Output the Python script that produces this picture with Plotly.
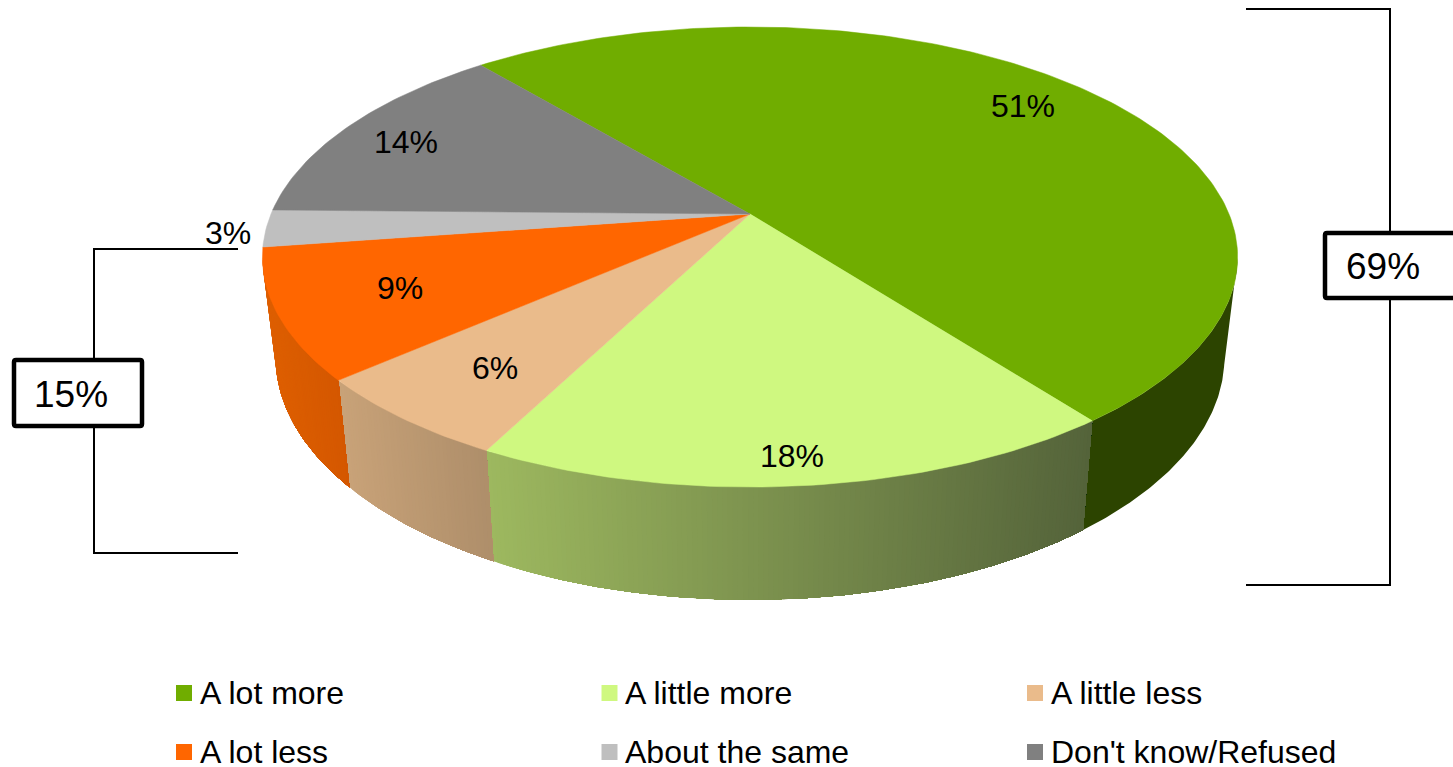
import math
import plotly.graph_objects as go

# ---- data ----
categories = ["A lot more", "A little more", "A little less", "A lot less", "About the same", "Don't know/Refused"]
values = [50.7, 18.0, 6.0, 9.1, 2.6, 13.6]
slice_labels = ["51%", "18%", "6%", "9%", "3%", "14%"]
top_colors = ["#70AD00", "#CFF880", "#EABB8B", "#FF6600", "#BFBFBF", "#808080"]
wall_left = ["#2C4400", "#9DB85F", "#C8A278", "#DE5F00", "#A0A0A0", "#6A6A6A"]
wall_right = ["#2C4400", "#54633A", "#AE8E6A", "#D45700", "#A0A0A0", "#6A6A6A"]
net_labels = ["69%", "15%"]

# ---- projection of the tilted pie onto the page ----
W, H = 1453, 767
CX, CY = 750, 214
RX, RY, K = 479, 222, 0.187
START = 320
FONT = "Liberation Sans, Arial, sans-serif"


def top(t):
    u, v = math.sin(math.radians(t)), -math.cos(math.radians(t))
    w = 1 - K * v
    return CX + RX * u / w, CY + RY * v / w


def bottom(t):
    x, y = top(t)
    return CX + 0.973 * (x - CX), 1.055 * y + 86


def hex2rgb(c):
    return [int(c[i:i + 2], 16) for i in (1, 3, 5)]


def mix(a, b, f):
    ra, rb = hex2rgb(a), hex2rgb(b)
    return "rgb(%d,%d,%d)" % tuple(round(p + (q - p) * f) for p, q in zip(ra, rb))


fig = go.Figure()
total = sum(values)
angle = START
spans = []
for val in values:
    spans.append((angle, angle + val / total * 360))
    angle += val / total * 360


def visible(t):
    return -math.cos(math.radians(t)) > K


# side walls: each step repaints the rest of the wall, so no seams show
for i, (a0, a1) in enumerate(spans):
    n = max(2, int((a1 - a0) / 0.5))
    ts = [t for t in (a0 + (a1 - a0) * j / n for j in range(n + 1)) if visible(t)]
    if len(ts) < 2:
        continue
    ts.sort(key=lambda t: top(t)[0])
    step = 1 if wall_left[i] != wall_right[i] else len(ts)
    xa, xb = top(ts[0])[0], top(ts[-1])[0]
    for j in range(0, len(ts) - 1, step):
        rest = ts[j:]
        p = [top(t) for t in rest] + [bottom(t) for t in reversed(rest)]
        p.append(p[0])
        f = (top(ts[j])[0] - xa) / ((xb - xa) or 1)
        col = mix(wall_left[i], wall_right[i], f)
        fig.add_trace(go.Scatter(
            x=[q[0] for q in p], y=[q[1] for q in p], mode="lines", fill="toself",
            fillcolor=col, line=dict(color=col, width=0), hoverinfo="skip", showlegend=False))

# top faces
for i, (a0, a1) in enumerate(spans):
    n = max(4, int(a1 - a0))
    pts = [(CX, CY)] + [top(a0 + (a1 - a0) * j / n) for j in range(n + 1)] + [(CX, CY)]
    fig.add_trace(go.Scatter(
        x=[q[0] for q in pts], y=[q[1] for q in pts], mode="lines", fill="toself",
        fillcolor=top_colors[i], line=dict(color=top_colors[i], width=0.5),
        name=categories[i], hoverinfo="skip", showlegend=False))

label_pos = [(1023, 106), (792, 456), (495, 368), (400, 288), (228, 233), (406, 142)]
annotations = [
    dict(x=px, y=py, text=s, showarrow=False,
         font=dict(family=FONT, size=32, color="#000000"))
    for (px, py), s in zip(label_pos, slice_labels)
]
annotations += [
    dict(x=1382.5, y=266, text=net_labels[0], showarrow=False, font=dict(family=FONT, size=37, color="#000000")),
    dict(x=70.5, y=394, text=net_labels[1], showarrow=False, font=dict(family=FONT, size=37, color="#000000")),
]

# legend: swatch markers with their texts
legend_cols = [184, 609.5, 1035]
legend_rows = [693, 752]
for i, cat in enumerate(categories):
    lx, ly = legend_cols[i % 3], legend_rows[i // 3]
    fig.add_trace(go.Scatter(
        x=[lx], y=[ly], mode="markers", name=cat, showlegend=False, hoverinfo="skip",
        marker=dict(symbol="square", size=16, color=top_colors[i], line=dict(width=0))))
    annotations.append(dict(x=lx + 13.5, y=ly, text=cat, xanchor="left", showarrow=False,
                            font=dict(family=FONT, size=32, color="#000000")))

line = dict(color="#000000", width=2)
box = dict(color="#000000", width=4.5)


def rbox(x0, y0, x1, y1, r=2):
    return (f"M{x0 + r},{y0} L{x1 - r},{y0} Q{x1},{y0} {x1},{y0 + r} L{x1},{y1 - r} Q{x1},{y1} {x1 - r},{y1} "
            f"L{x0 + r},{y1} Q{x0},{y1} {x0},{y1 - r} L{x0},{y0 + r} Q{x0},{y0} {x0 + r},{y0} Z")


shapes = [
    dict(type="path", path="M1246,9 L1390,9 L1390,585 L1246,585", line=line, layer="above"),
    dict(type="path", path="M238,249 L94,249 L94,553 L238,553", line=line, layer="above"),
    dict(type="path", path=rbox(1325, 233, 1456, 298), line=box, fillcolor="#FFFFFF", layer="above"),
    dict(type="path", path=rbox(14, 360, 142, 426), line=box, fillcolor="#FFFFFF", layer="above"),
]

fig.update_layout(
    width=W, height=H, margin=dict(l=0, r=0, t=0, b=0, autoexpand=False),
    paper_bgcolor="#FFFFFF", plot_bgcolor="#FFFFFF",
    xaxis=dict(range=[0, W], visible=False, fixedrange=True),
    yaxis=dict(range=[H, 0], visible=False, fixedrange=True),
    annotations=annotations, shapes=shapes,
    hovermode=False, showlegend=False,
)
fig.write_html("out.html", config=dict(displayModeBar=False),
               post_script="document.body.style.margin='0';document.body.style.overflow='hidden';")
